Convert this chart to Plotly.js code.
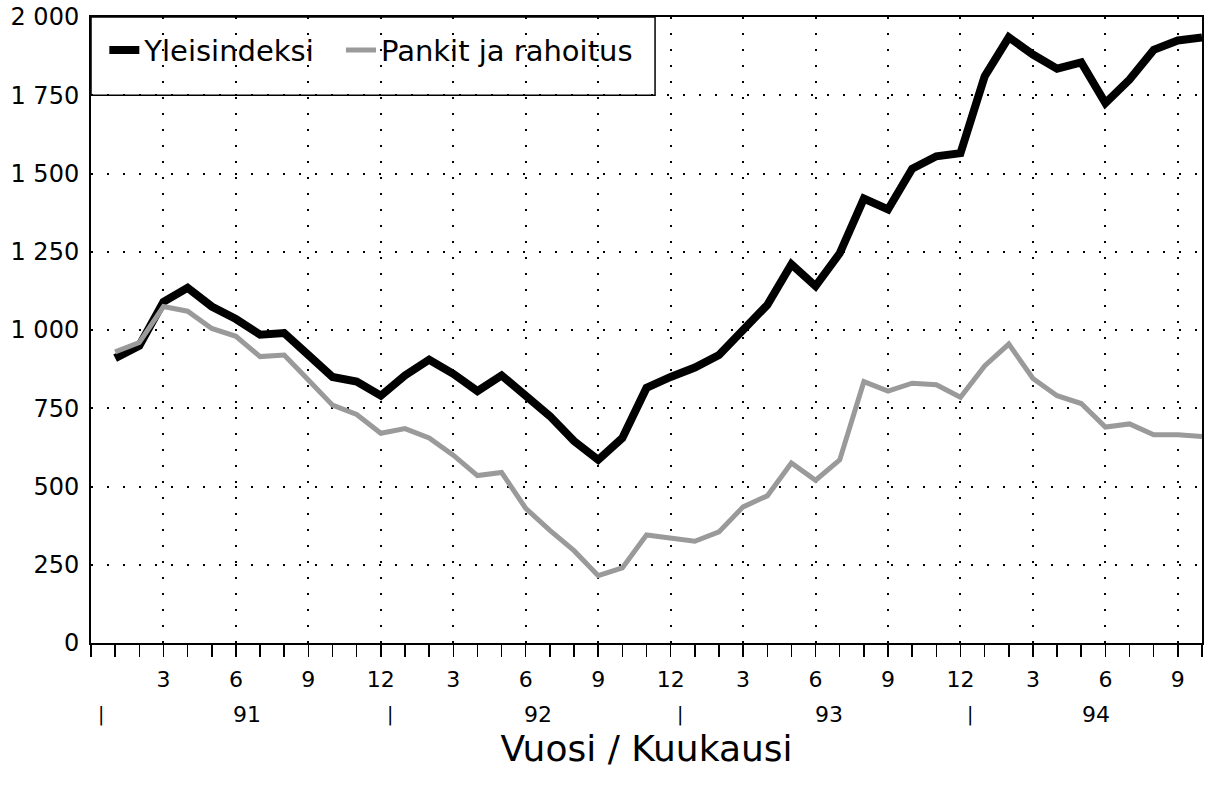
<!DOCTYPE html>
<html>
<head>
<meta charset="utf-8">
<script src="https://cdn.plot.ly/plotly-3.0.1.min.js"></script>
<style>html,body{margin:0;padding:0;background:#fff;}#chart{width:1205px;height:786px;}</style>
</head>
<body>
<div id="chart"></div>
<script>
// Month index: 1 = January 1991 ... 46 = October 1994
const months = [1,2,3,4,5,6,7,8,9,10,11,12,13,14,15,16,17,18,19,20,21,22,23,24,25,26,27,28,29,30,31,32,33,34,35,36,37,38,39,40,41,42,43,44,45,46];
const yleisindeksi = [910,950,1090,1135,1075,1035,985,990,920,850,835,790,855,905,860,805,855,790,725,645,585,655,815,850,880,920,1000,1080,1210,1140,1245,1420,1385,1515,1555,1565,1810,1935,1880,1835,1855,1725,1800,1895,1925,1935];
const pankit = [930,960,1075,1060,1005,980,915,920,840,760,730,670,685,655,600,535,545,430,360,295,215,240,345,335,325,355,435,470,575,520,585,835,805,830,825,785,885,955,845,790,765,690,700,665,665,660];
const monthTickVals = [3,6,9,12,15,18,21,24,27,30,33,36,39,42,45];
const monthTickText = ['3','6','9','12','3','6','9','12','3','6','9','12','3','6','9'];
const yearLabels = ['91','92','93','94'];
const yearLabelPos = [6.45,18.5,30.55,41.6];
const yearSepPos = [0.4,12.4,24.4,36.4];
const seriesNames = ['Yleisindeksi','Pankit ja rahoitus'];

const FONT = 'DejaVu Sans, Verdana, sans-serif';

const traces = [
  {x: months, y: yleisindeksi, name: seriesNames[0], type: 'scatter', mode: 'lines',
   legend: 'legend', line: {color: '#000000', width: 8}},
  {x: months, y: pankit, name: seriesNames[1], type: 'scatter', mode: 'lines',
   legend: 'legend2', line: {color: '#9a9a9a', width: 5}}
];

const annotations = [];
yearLabels.forEach((t, i) => annotations.push({
  x: yearLabelPos[i], y: 0, xref: 'x', yref: 'paper', yanchor: 'middle', yshift: -71,
  text: t, showarrow: false, font: {family: FONT, size: 22, color: '#000'}
}));
yearSepPos.forEach(p => annotations.push({
  x: p, y: 0, xref: 'x', yref: 'paper', yanchor: 'middle', yshift: -71,
  text: '|', showarrow: false, font: {family: FONT, size: 19, color: '#000'}
}));

const legendBase = {
  y: 0.947, xanchor: 'left', yanchor: 'middle', orientation: 'h',
  bgcolor: 'rgba(0,0,0,0)', borderwidth: 0,
  font: {family: FONT, size: 29, color: '#000'},
  itemwidth: 30
};

const layout = {
  width: 1205, height: 786,
  margin: {l: 91, r: 3, t: 17, b: 143},
  paper_bgcolor: '#fff', plot_bgcolor: '#fff',
  separators: ', ',
  font: {family: FONT, color: '#000'},
  showlegend: true,
  legend: Object.assign({x: 0.012}, legendBase),
  legend2: Object.assign({x: 0.225}, legendBase),
  shapes: [{
    type: 'rect', xref: 'paper', yref: 'y', x0: 0, x1: 0.5077, y0: 1750, y1: 2000,
    fillcolor: '#fff', line: {color: '#000', width: 1.5}, layer: 'between'
  }],
  xaxis: {
    range: [0, 46], showline: true, linecolor: '#000', linewidth: 2, mirror: true,
    tickmode: 'array', tickvals: monthTickVals, ticktext: monthTickText,
    ticks: 'outside', ticklen: 12, tickwidth: 1.5, tickcolor: '#000',
    ticklabelstandoff: 4,
    tickfont: {family: FONT, size: 22, color: '#000'},
    showgrid: true, gridcolor: '#000', gridwidth: 2, griddash: '2px,14px',
    minor: {dtick: 1, tick0: 0, ticks: 'outside', ticklen: 12, tickwidth: 1.5, tickcolor: '#000', showgrid: false},
    zeroline: false,
    title: {text: 'Vuosi / Kuukausi', font: {family: FONT, size: 36, color: '#000'}, standoff: 44}
  },
  yaxis: {
    range: [0, 2000], dtick: 250, tick0: 0, tickformat: ',d',
    showline: true, linecolor: '#000', linewidth: 2, mirror: true,
    ticks: '', ticklabelstandoff: 5,
    tickfont: {family: FONT, size: 24, color: '#000'},
    showgrid: true, gridcolor: '#000', gridwidth: 2, griddash: '2px,14px',
    zeroline: false
  },
  annotations: annotations
};

Plotly.newPlot('chart', traces, layout, {displayModeBar: false, staticPlot: true});
</script>
</body>
</html>
